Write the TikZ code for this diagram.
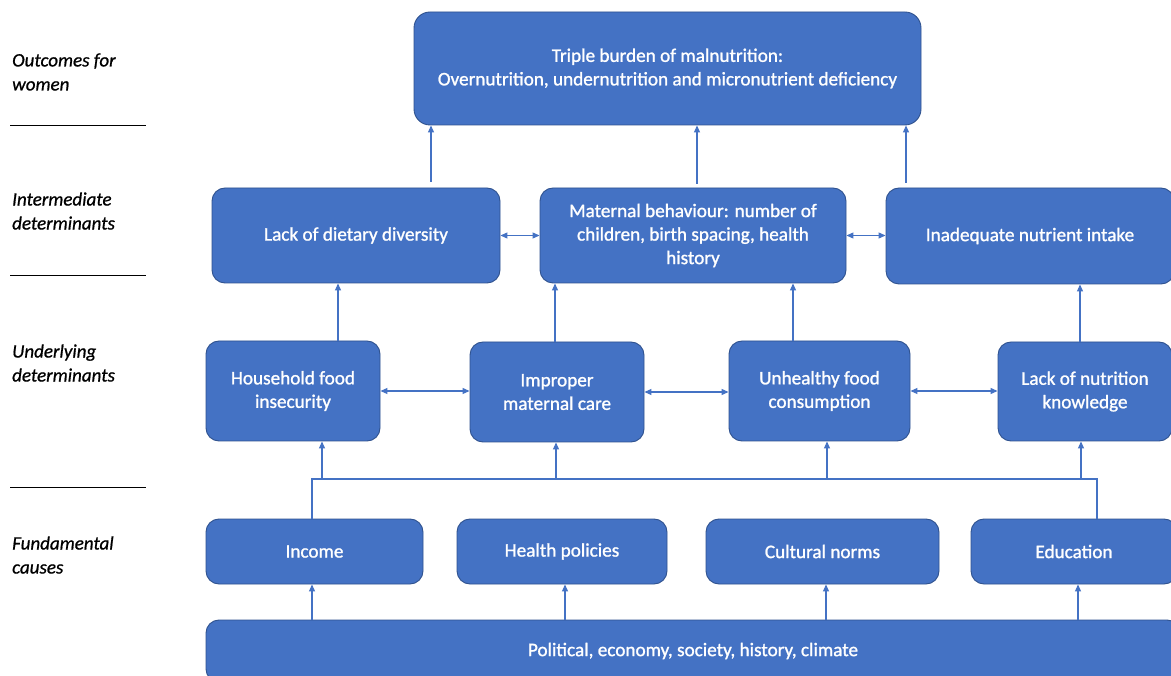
\documentclass[tikz,border=0pt]{standalone}
\usepackage{fontspec}
\setmainfont{Carlito}
\newfontfamily\boxfont{Carlito}[FakeBold=1.2]
\newfontfamily\lblfont{Carlito}[FakeBold=0.8]
\usetikzlibrary{arrows.meta}
\definecolor{boxfill}{HTML}{4472C4}
\definecolor{boxline}{HTML}{2F528F}
\definecolor{link}{HTML}{4472C4}
\begin{document}
\begin{tikzpicture}[x=1pt,y=-1pt,
  box/.style={draw=boxline,line width=0.9pt,fill=boxfill,rounded corners=13pt,
    text=white,align=center,inner sep=0pt,font=\boxfont\fontsize{19.2}{23.5}\selectfont},
  lbl/.style={anchor=west,align=left,inner sep=0pt,font=\lblfont\itshape\fontsize{19}{24}\selectfont},
  link/.style={draw=link,line width=1.1pt},
  arr/.style={link,-{Triangle[length=7pt,width=6pt]}},
  darr/.style={link,{Triangle[length=7pt,width=6pt]}-{Triangle[length=7pt,width=6pt]}},
  rule/.style={draw=black,line width=1pt}]
\useasboundingbox (0,0) rectangle (1171,676);
\clip (0,0) rectangle (1171,676);
\fill[white] (0,0) rectangle (1171,676);

% level labels and separators
\node[lbl] (l1) at (12,72) {Outcomes for\\women};
\node[lbl] (l2) at (12,211) {Intermediate\\determinants};
\node[lbl] (l3) at (12,363) {Underlying\\determinants};
\node[lbl] (l4) at (12,555) {Fundamental\\causes};
\draw[rule] (10,126) -- (146,126);
\draw[rule] (10,276) -- (146,276);
\draw[rule] (10,487) -- (146,487);

% outcome
\node[box,rounded corners=16pt,minimum width=507pt,minimum height=113pt] (top) at (667.5,68.5)
  {Triple burden of malnutrition:\\Overnutrition, undernutrition and micronutrient deficiency};

% intermediate determinants
\node[box,minimum width=288pt,minimum height=95pt] (r2a) at (356,235.5) {Lack of dietary diversity};
\node[box,minimum width=306pt,minimum height=95pt] (r2b) at (693,235.5)
  {Maternal behaviour: number of\\children, birth spacing, health\\history};
\node[box,minimum width=288pt,minimum height=96pt] (r2c) at (1030,236) {Inadequate nutrient intake};

% underlying determinants
\node[box,minimum width=174pt,minimum height=100pt] (r3a) at (293,391) {Household food\\insecurity};
\node[box,minimum width=174pt,minimum height=100pt] (r3b) at (557,392) {Improper\\maternal care};
\node[box,minimum width=181pt,minimum height=100pt] (r3c) at (819.5,391) {Unhealthy food\\consumption};
\node[box,minimum width=174pt,minimum height=99pt] (r3d) at (1085,391.5) {Lack of nutrition\\knowledge};

% fundamental causes
\node[box,minimum width=217pt,minimum height=65pt] (r4a) at (314.5,551.5) {Income};
\node[box,minimum width=210pt,minimum height=65pt] (r4b) at (562,551.5) {Health policies};
\node[box,minimum width=233pt,minimum height=65pt] (r4c) at (822.5,551.5) {Cultural norms};
\node[box,minimum width=206pt,minimum height=65pt] (r4d) at (1074,551.5) {Education};

% structural context
\node[box,minimum width=974pt,minimum height=62pt] (bot) at (693,651)
  {Political, economy, society, history, climate};

% intermediate -> outcome
\draw[arr] ([yshift=6pt]r2a.north -| 431,0) -- (top.south -| 431,0);
\draw[arr] ([yshift=4pt]r2b.north -| 697,0) -- (top.south -| 697,0);
\draw[arr] ([yshift=5pt]r2c.north -| 906,0) -- (top.south -| 906,0);

% links within the intermediate level
\draw[darr] (r2a.east) -- (r2a.east -| r2b.west);
\draw[darr] (r2b.east) -- (r2b.east -| r2c.west);

% underlying -> intermediate
\draw[arr] (r3a.north -| 338,0) -- (r2a.south -| 338,0);
\draw[arr] (r3b.north -| 555,0) -- (r2b.south -| 555,0);
\draw[arr] (r3c.north -| 793,0) -- (r2b.south -| 793,0);
\draw[arr] (r3d.north -| 1080,0) -- (r2c.south -| 1080,0);

% links within the underlying level
\draw[darr] (r3a.east) -- (r3a.east -| r3b.west);
\draw[darr] (r3b.west -| r3b.east) -- (r3b.east -| r3c.west);
\draw[darr] (r3c.east) -- (r3c.east -| r3d.west);

% fundamental causes -> underlying, through a common bus
\coordinate (busL) at (312,479);
\coordinate (busR) at (1097,479);
\draw[link] (r4a.north -| busL) -- (busL) -- (busR) -- (r4d.north -| busR);
\draw[arr] (busL -| 322,0) -- (r3a.south -| 322,0);
\draw[arr] (busL -| 556,0) -- (r3b.south -| 556,0);
\draw[arr] (busL -| 827,0) -- (r3c.south -| 827,0);
\draw[arr] (busL -| 1081,0) -- (r3d.south -| 1081,0);

% context -> fundamental causes
\draw[arr] (bot.north -| 312,0) -- (r4a.south -| 312,0);
\draw[arr] (bot.north -| 565,0) -- (r4b.south -| 565,0);
\draw[arr] (bot.north -| 826,0) -- (r4c.south -| 826,0);
\draw[arr] (bot.north -| 1078,0) -- (r4d.south -| 1078,0);
\end{tikzpicture}
\end{document}
